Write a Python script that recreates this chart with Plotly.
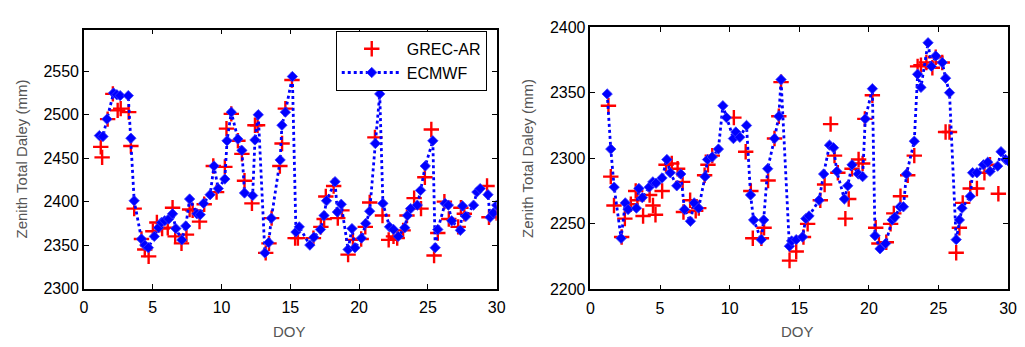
import plotly.graph_objects as go

# ---------------- data: left panel ----------------
left_grec_doy = [1.22, 1.32, 1.72, 2.1, 2.45, 2.67, 3.25, 3.41, 3.65, 4.18, 4.42, 4.70, 5.01, 5.30, 5.68,
                 6.09, 6.44, 6.63, 7.09, 7.45, 7.68, 7.9, 8.4, 8.74, 9.4, 9.64, 10.24, 10.36, 10.71, 11.19,
                 11.48, 11.67, 12.21, 12.43, 12.62, 13.21, 13.45, 13.64, 14.24, 14.40, 14.64, 15.12, 15.35,
                 15.55, 16.68, 17.22, 17.46, 17.58, 18.15, 18.45, 18.75, 19.2, 19.55, 20.15, 20.45, 20.77,
                 21.15, 21.7, 22.15, 22.5, 22.77, 23.2, 23.48, 24.0, 24.5, 24.78, 25.25, 25.45, 25.72, 26.2,
                 26.52, 27.2, 27.4, 27.65, 29.3, 29.44, 30.0]
left_grec_ztd = [2463, 2451, 2495, 2524, 2505, 2507, 2503, 2464, 2392, 2357, 2345, 2337, 2366, 2376, 2369,
                 2370, 2393, 2360, 2352, 2362, 2391, 2390, 2377, 2397, 2441, 2411, 2440, 2484, 2501, 2470,
                 2455, 2424, 2398, 2488, 2488, 2341, 2352, 2381, 2441, 2467, 2507, 2540, 2358,
                 2358, 2358, 2371, 2380, 2406, 2418, 2381, 2390, 2339, 2356, 2357, 2371, 2399,
                 2474, 2384, 2356, 2360, 2358, 2367, 2384, 2404, 2392, 2428, 2483, 2338, 2364, 2400,
                 2380, 2371, 2393, 2386, 2418, 2382, 2387]

left_ecmwf_doy = [1.12, 1.38, 1.67, 2.15, 2.39, 2.63, 3.22, 3.41, 3.65, 4.18,
                  4.42, 4.68, 5.11, 5.42, 5.63, 5.87, 6.16, 6.44, 6.68, 7.11,
                  7.40, 7.68, 8.21, 8.45, 8.69, 9.17, 9.45, 9.76, 10.24, 10.40,
                  10.71, 11.19, 11.48, 11.67, 12.26, 12.43, 12.67, 13.15, 13.43, 13.62,
                  14.26, 14.39, 14.64, 15.15, 15.41, 15.65, 16.42, 16.71, 17.19, 17.45,
                  17.63, 18.25, 18.42, 18.7, 19.2, 19.48, 19.7, 20.17, 20.48, 20.77,
                  21.18, 21.5, 21.73, 22.21, 22.5, 22.84, 23.32, 23.51, 23.75, 24.23,
                  24.47, 24.81, 25.36, 25.53, 25.72, 26.25, 26.49, 26.73, 27.36, 27.52,
                  27.76, 28.32, 28.56, 28.8, 29.37, 29.52, 29.76, 30.0]
left_ecmwf_ztd = [2476, 2475, 2495, 2525, 2523, 2522, 2522, 2473, 2401, 2357,
                  2350, 2347, 2360, 2370, 2376, 2378, 2380, 2386, 2369, 2356,
                  2372, 2403, 2386, 2385, 2398, 2408, 2441, 2415, 2426, 2470,
                  2503, 2472, 2459, 2410, 2407, 2471, 2500, 2341, 2353, 2381,
                  2448, 2488, 2503, 2544, 2365, 2371, 2350, 2359, 2368, 2384,
                  2401, 2423, 2388, 2397, 2345, 2369, 2347, 2358, 2375, 2389,
                  2467, 2524, 2398, 2371, 2368, 2360, 2370, 2384, 2392, 2396,
                  2413, 2441, 2470, 2347, 2368, 2398, 2396, 2378, 2367, 2395,
                  2383, 2396, 2411, 2415, 2408, 2382, 2387, 2396]

# ---------------- data: right panel ----------------
right_grec_doy = [1.29, 1.46, 1.69, 2.24, 2.47, 2.9, 3.25, 3.37, 3.78, 4.25, 4.49, 4.67, 5.15, 5.43, 5.84,
                  6.26, 6.62, 6.68, 7.16, 7.56, 7.78, 8.2, 8.44, 8.75, 10.3, 11.15, 11.52, 11.66, 12.28,
                  12.47, 12.76, 13.22, 13.53, 13.69, 14.3, 14.78, 15.3, 15.6, 16.51, 16.82, 17.25, 17.53,
                  17.77, 18.31, 18.55, 18.79, 19.26, 19.55, 19.71, 20.25, 20.49, 20.72, 21.25, 21.56,
                  21.79, 22.27, 22.79, 23.26, 23.5, 23.74, 24.13, 24.56, 24.8, 25.27, 25.51, 25.79, 26.27,
                  26.5, 26.74, 27.28, 27.76, 28.3, 28.7, 29.3]
right_grec_ztd = [2340, 2286, 2264, 2240, 2254, 2265, 2275, 2268, 2256, 2272, 2264, 2257, 2275, 2295, 2296,
                  2292, 2282, 2259, 2268, 2260, 2262, 2287, 2295, 2302, 2331, 2305, 2275, 2239, 2239,
                  2247, 2283, 2315, 2332, 2358, 2222, 2229, 2240, 2250, 2268, 2280, 2326, 2302,
                  2289, 2254, 2269, 2292, 2299, 2296, 2330, 2348, 2247, 2235, 2236, 2250,
                  2258, 2271, 2287, 2302, 2370, 2371, 2373, 2369, 2377, 2373, 2320, 2320, 2228,
                  2247, 2266, 2277, 2277, 2289, 2295, 2273]

right_ecmwf_doy = [1.2, 1.46, 1.7, 2.2, 2.5, 2.7, 3.3, 3.48, 3.72, 4.22, 4.48, 4.71, 5.14, 5.49, 5.73,
                   6.2, 6.49, 6.75, 7.18, 7.45, 7.77, 8.23, 8.41, 8.75, 9.19, 9.51, 9.77, 10.27, 10.44,
                   10.73, 11.21, 11.5, 11.72, 12.27, 12.44, 12.73, 13.22, 13.53, 13.69, 14.29, 14.45,
                   14.78, 15.23, 15.47, 15.7, 16.42, 16.75, 17.17, 17.46, 17.7, 18.24, 18.48, 18.79,
                   19.24, 19.55, 19.74, 20.25, 20.44, 20.8, 21.2, 21.67, 21.86, 22.24, 22.48, 22.7,
                   23.26, 23.5, 23.74, 24.25, 24.49, 24.8, 25.27, 25.51, 25.79, 26.27, 26.5, 26.69,
                   27.28, 27.45, 27.76, 28.23, 28.54, 28.7, 29.25, 29.49, 29.82, 30.0]
right_ecmwf_ztd = [2349, 2307, 2278, 2239, 2266, 2261, 2262, 2277, 2270, 2278, 2282, 2281, 2285, 2299, 2289,
                   2279, 2288, 2261, 2252, 2266, 2262, 2286, 2299, 2301, 2307, 2340, 2331, 2315, 2320,
                   2316, 2325, 2272, 2253, 2238, 2253, 2292, 2315, 2332, 2360, 2233, 2237,
                   2238, 2240, 2254, 2256, 2268, 2288, 2310, 2308, 2290, 2269, 2279, 2295,
                   2288, 2286, 2330, 2353, 2241, 2231, 2235, 2253, 2255, 2263, 2263, 2288,
                   2313, 2364, 2354, 2388, 2370, 2378, 2373, 2361, 2350, 2238, 2253, 2262,
                   2271, 2289, 2289, 2295, 2297, 2290, 2294, 2305, 2299, 2298]

x_ticks = [0, 5, 10, 15, 20, 25, 30]
left_y_ticks = [2300, 2350, 2400, 2450, 2500, 2550]
right_y_ticks = [2200, 2250, 2300, 2350, 2400]

# ---------------- figure ----------------
FONT = "Liberation Sans, Arial, sans-serif"
RED = "#ff0000"
BLUE = "#0000ff"

fig = go.Figure()

def add_pair(gx, gy, ex, ey, xa, ya, show):
    fig.add_trace(go.Scatter(
        x=gx, y=gy, mode="markers", name="GREC-AR", showlegend=show,
        xaxis=xa, yaxis=ya,
        marker=dict(symbol="cross-thin-open", size=11, color=RED,
                    line=dict(width=2.4, color=RED)),
    ))
    fig.add_trace(go.Scatter(
        x=ex, y=ey, mode="lines+markers", name="ECMWF", showlegend=show,
        xaxis=xa, yaxis=ya,
        line=dict(color=BLUE, width=2.8, dash="dot"),
        marker=dict(symbol="diamond", size=8, color=BLUE,
                    line=dict(width=0.8, color="#3a3aff")),
    ))

add_pair(left_grec_doy, left_grec_ztd, left_ecmwf_doy, left_ecmwf_ztd, "x", "y", True)
add_pair(right_grec_doy, right_grec_ztd, right_ecmwf_doy, right_ecmwf_ztd, "x2", "y2", False)

W, H = 1025, 347

axis_common = dict(
    showline=True, linecolor="black", linewidth=1.5, mirror="ticks",
    ticks="inside", ticklen=5, tickwidth=1, tickcolor="black",
    showgrid=False, zeroline=False,
    tickfont=dict(family=FONT, size=16, color="black"),
)

fig.update_layout(
    width=W, height=H,
    margin=dict(l=0, r=0, t=0, b=0),
    paper_bgcolor="white", plot_bgcolor="white",
    xaxis=dict(domain=[81 / W, 499 / W], range=[0, 30], tickvals=x_ticks, anchor="y",
               ticklabelstandoff=4, **axis_common),
    yaxis=dict(domain=[1 - 295 / H, 1 - 22.7 / H], range=[2300, 2598], tickvals=left_y_ticks,
               anchor="x", **axis_common),
    xaxis2=dict(domain=[594 / W, 1017 / W], range=[0, 30], tickvals=x_ticks, anchor="y2",
                ticklabelstandoff=4, **axis_common),
    yaxis2=dict(domain=[1 - 296 / H, 1 - 20 / H], range=[2200, 2400], tickvals=right_y_ticks,
                anchor="x2", **axis_common),
    legend=dict(
        x=336 / W, y=1 - 24 / H, xanchor="left", yanchor="top",
        bgcolor="white", bordercolor="black", borderwidth=1,
        font=dict(family=FONT, size=16, color="black"),
        itemwidth=60, tracegroupgap=2,
    ),
    showlegend=True,
)

title_font = dict(family=FONT, size=15, color="#555555")
annotations = [
    dict(text="Zenith Total Daley (mm)", x=18 / W, y=1 - 158.5 / H, xref="paper", yref="paper",
         textangle=-90, showarrow=False, font=title_font, xanchor="center", yanchor="middle"),
    dict(text="Zenith Total Daley (mm)", x=530 / W, y=1 - 158.5 / H, xref="paper", yref="paper",
         textangle=-90, showarrow=False, font=title_font, xanchor="center", yanchor="middle"),
    dict(text="DOY", x=289 / W, y=1 - 340 / H, xref="paper", yref="paper",
         showarrow=False, font=title_font, xanchor="center", yanchor="middle"),
    dict(text="DOY", x=804 / W, y=1 - 340 / H, xref="paper", yref="paper",
         showarrow=False, font=title_font, xanchor="center", yanchor="middle"),
]
fig.update_layout(annotations=annotations)

fig.write_html("out.html")
